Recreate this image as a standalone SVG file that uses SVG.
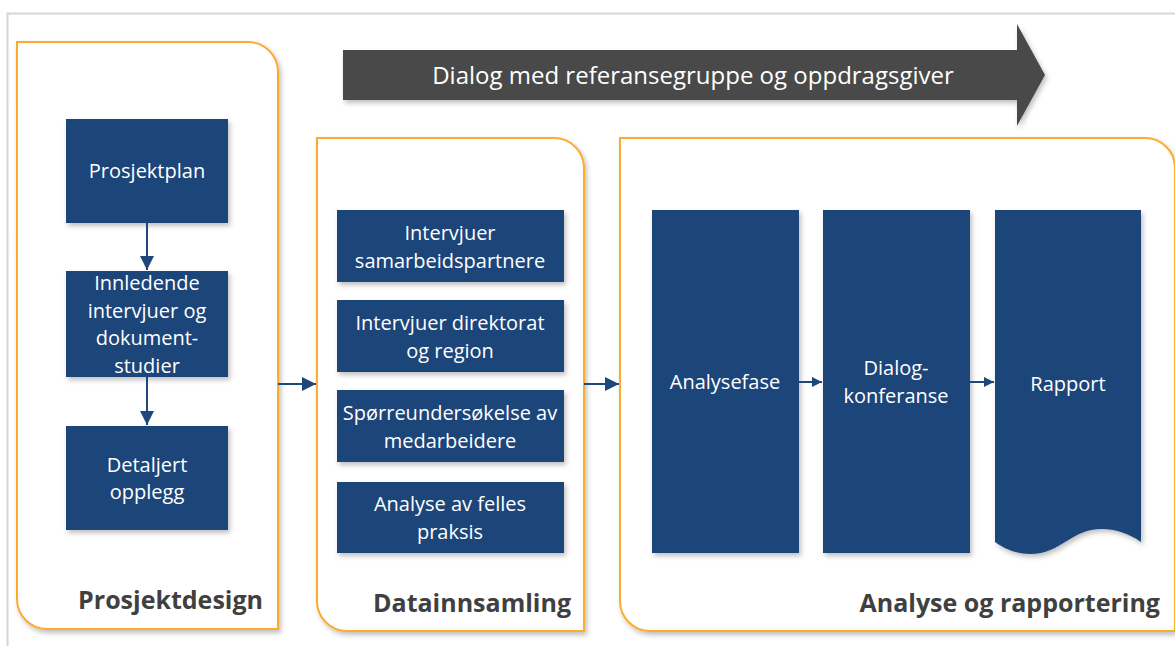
<svg xmlns="http://www.w3.org/2000/svg" width="1175" height="646" viewBox="0 0 1175 646">
<defs>
<filter id="sh" x="-10%" y="-10%" width="130%" height="130%">
<feDropShadow dx="2" dy="3" stdDeviation="2.5" flood-color="#000" flood-opacity="0.25"/>
</filter>
<marker id="ah" viewBox="0 0 10 10" refX="10" refY="5" markerWidth="10" markerHeight="10" markerUnits="userSpaceOnUse" orient="auto">
<path d="M0,0 L10,5 L0,10 Z" fill="#1f477c"/>
</marker>
<marker id="ah2" viewBox="0 0 12 12" refX="12" refY="6" markerWidth="14" markerHeight="14" markerUnits="userSpaceOnUse" orient="auto">
<path d="M0,0 L12,6 L0,12 Z" fill="#1f477c"/>
</marker>
<style>
.panel{fill:#fff;stroke:#fbab2e;stroke-width:2;filter:url(#sh)}
.box{fill:#1f447a;filter:url(#sh)}
.bt{font-family:"Open Sans","Liberation Sans",sans-serif;font-size:20px;fill:#fff;text-anchor:middle}
.lbl{font-family:"Open Sans","Liberation Sans",sans-serif;font-size:25px;font-weight:bold;fill:#404040;text-anchor:end}
.con{stroke:#1f477c;stroke-width:2;fill:none}
</style>
</defs>
<rect x="0" y="0" width="1175" height="646" fill="#fff"/>
<path d="M7.5,646 V13.5 H1175" fill="none" stroke="#d6d6d6" stroke-width="2"/>

<g id="panel-prosjektdesign">
<path class="panel" d="M17,42 H248 A30,30 0 0 1 278,72 V629 H47 A30,30 0 0 1 17,599 Z"/>
<text class="lbl" x="263" y="609">Prosjektdesign</text>
</g>
<g id="panel-datainnsamling">
<path class="panel" d="M317,138 H554 A30,30 0 0 1 584,168 V631 H347 A30,30 0 0 1 317,601 Z"/>
<text class="lbl" x="571" y="612">Datainnsamling</text>
</g>
<g id="panel-analyse">
<path class="panel" d="M620,138 H1145 A30,30 0 0 1 1175,168 V631 H650 A30,30 0 0 1 620,601 Z"/>
<text class="lbl" x="1160" y="612">Analyse og rapportering</text>
</g>

<g id="dialog-arrow">
<path d="M343,50 H1017 V24 L1045,75 L1017,126 V100 H343 Z" fill="#4a4a48" filter="url(#sh)"/>
<text x="693" y="84" font-family="Open Sans, Liberation Sans, sans-serif" font-size="24" fill="#fff" text-anchor="middle">Dialog med referansegruppe og oppdragsgiver</text>
</g>

<g id="prosjektplan">
<rect class="box" x="66" y="119" width="162" height="104"/>
<text class="bt" x="147" y="178">Prosjektplan</text>
</g>
<g id="innledende">
<rect class="box" x="66" y="271" width="162" height="106"/>
<text class="bt" x="147" y="290">Innledende</text>
<text class="bt" x="147" y="318">intervjuer og</text>
<text class="bt" x="147" y="345">dokument-</text>
<text class="bt" x="147" y="373">studier</text>
</g>
<g id="detaljert">
<rect class="box" x="66" y="426" width="162" height="104"/>
<text class="bt" x="147" y="472">Detaljert</text>
<text class="bt" x="147" y="499">opplegg</text>
</g>

<g id="intervjuer-samarbeid">
<rect class="box" x="337" y="210" width="227" height="72"/>
<text class="bt" x="450" y="240">Intervjuer</text>
<text class="bt" x="450" y="268">samarbeidspartnere</text>
</g>
<g id="intervjuer-direktorat">
<rect class="box" x="337" y="300" width="227" height="72"/>
<text class="bt" x="450" y="330">Intervjuer direktorat</text>
<text class="bt" x="450" y="358">og region</text>
</g>
<g id="sporreundersokelse">
<rect class="box" x="337" y="390" width="227" height="72"/>
<text class="bt" x="450" y="420">Spørreundersøkelse av</text>
<text class="bt" x="450" y="448">medarbeidere</text>
</g>
<g id="analyse-felles">
<rect class="box" x="337" y="482" width="227" height="71"/>
<text class="bt" x="450" y="511">Analyse av felles</text>
<text class="bt" x="450" y="539">praksis</text>
</g>

<g id="analysefase">
<rect class="box" x="652" y="210" width="147" height="343"/>
<text class="bt" x="725" y="389">Analysefase</text>
</g>
<g id="dialogkonferanse">
<rect class="box" x="823" y="210" width="147" height="343"/>
<text class="bt" x="896" y="375">Dialog-</text>
<text class="bt" x="896" y="403">konferanse</text>
</g>
<g id="rapport">
<path class="box" d="M995,210 H1141 V542 C1128,533 1115,529 1102,529 C1070,529 1062,554 1030,554 C1016,554 1005,549 995,542 Z"/>
<text class="bt" x="1068" y="391">Rapport</text>
</g>

<g id="connectors">
<line class="con" x1="147" y1="223" x2="147" y2="270" marker-end="url(#ah2)"/>
<line class="con" x1="147" y1="377" x2="147" y2="425" marker-end="url(#ah2)"/>
<line class="con" x1="278" y1="384" x2="316" y2="384" marker-end="url(#ah2)"/>
<line class="con" x1="584" y1="384" x2="619" y2="384" marker-end="url(#ah2)"/>
<line class="con" x1="799" y1="382" x2="822" y2="382" marker-end="url(#ah)"/>
<line class="con" x1="970" y1="382" x2="994" y2="382" marker-end="url(#ah)"/>
</g>
</svg>
